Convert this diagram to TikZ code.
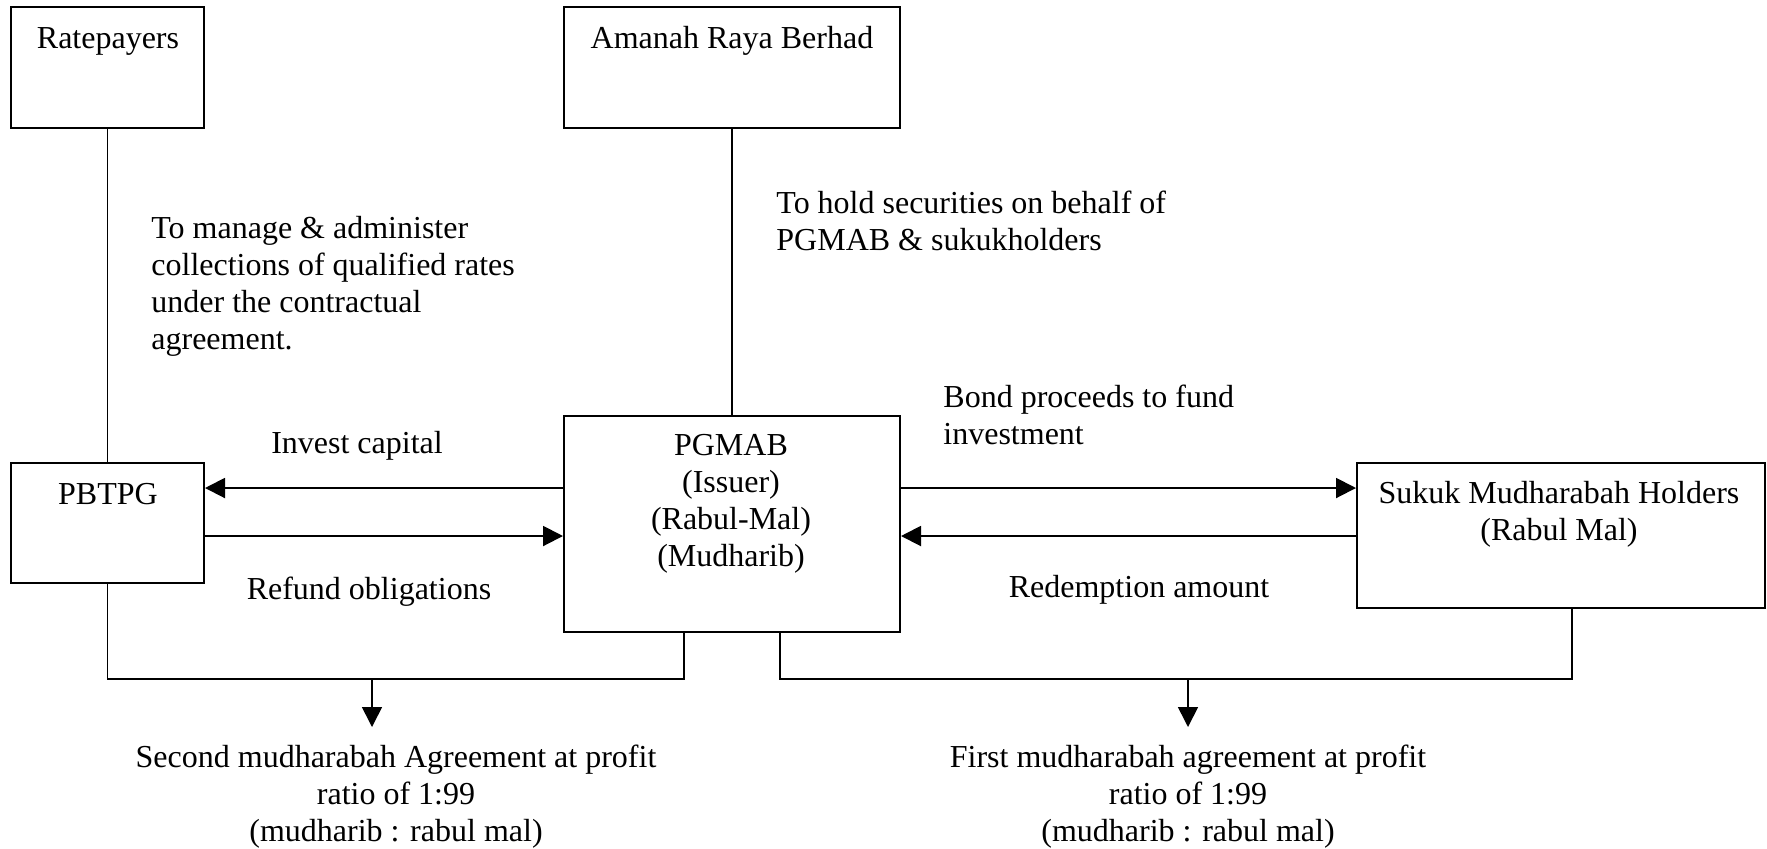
\documentclass[tikz,border=0pt]{standalone}
\usepackage{fontspec}
\setmainfont{Liberation Serif}
\usepackage{tikz}
\usetikzlibrary{calc}
\usetikzlibrary{arrows.meta}
\tikzset{
	boxstyle/.style={rectangle,draw=black,line width=1pt,inner sep=0pt},
	textstyle/.style={inner sep=0pt,font=\fontsize{16}{18.4}\selectfont},
	arrowstyle/.style={line width=1pt,-{Triangle[length=10pt,width=10pt]}},
	linestyle/.style={line width=0.9pt}
}
\begin{document}
\begin{tikzpicture}[x=0.5pt,y=-0.5pt]
	\useasboundingbox (0,0) rectangle (1767,848);
	\node[boxstyle,minimum width=96.5pt,minimum height=60.5pt] (rate) at (107.5,67.5) {};
	\node[boxstyle,minimum width=168pt,minimum height=60.5pt] (arb) at (732,67.5) {};
	\node[boxstyle,minimum width=96.5pt,minimum height=60pt] (pbtpg) at (107.5,523) {};
	\node[boxstyle,minimum width=168pt,minimum height=108pt] (pgmab) at (732,524) {};
	\node[boxstyle,minimum width=204pt,minimum height=72.5pt] (sukuk) at (1561,535.5) {};
	\node[textstyle,anchor=base] (ratetext) at (108,48) {Ratepayers};
	\node[textstyle,anchor=base] (arbtext) at (732,48) {Amanah Raya Berhad};
	\node[textstyle,anchor=base] (pbtpgtext) at (108,504) {PBTPG};
	\node[textstyle,anchor=north,align=center] (pgmabtext) at (731,434) {PGMAB\\(Issuer)\\(Rabul-Mal)\\(Mudharib)};
	\node[textstyle,anchor=north,align=center] (sukuktext) at (1559,481) {Sukuk Mudharabah Holders\\(Rabul Mal)};
	\node[textstyle,anchor=north west,align=left] (manage) at (151,216) {To manage \& administer\\collections of qualified rates\\under the contractual\\agreement.};
	\node[textstyle,anchor=north west,align=left] (hold) at (776,191) {To hold securities on behalf of\\PGMAB \& sukukholders};
	\node[textstyle,anchor=base] (invest) at (357,453) {Invest capital};
	\node[textstyle,anchor=base] (refund) at (369,599) {Refund obligations};
	\node[textstyle,anchor=north west,align=left] (bond) at (943,385) {Bond proceeds to fund\\investment};
	\node[textstyle,anchor=base] (redeem) at (1139,597) {Redemption amount};
	\node[textstyle,anchor=north,align=center] (second) at (396,745) {Second mudharabah Agreement at profit\\ratio of 1:99\\(mudharib : rabul mal)};
	\node[textstyle,anchor=north,align=center] (first) at (1188,745) {First mudharabah agreement at profit\\ratio of 1:99\\(mudharib : rabul mal)};
	\coordinate (leftjoin) at (372,679);
	\coordinate (rightjoin) at (1188,679);
	\draw[linestyle] (rate)--(pbtpg);
	\draw[linestyle] (arb)--(pgmab);
	\draw[arrowstyle] ([yshift=18pt]pgmab.west)--([yshift=18pt]pgmab.west -| pbtpg.east);
	\draw[arrowstyle] ([yshift=-6pt]pgmab.west -| pbtpg.east)--([yshift=-6pt]pgmab.west);
	\draw[arrowstyle] ([yshift=18pt]pgmab.east)--([yshift=18pt]pgmab.east -| sukuk.west);
	\draw[arrowstyle] ([yshift=-6pt]pgmab.east -| sukuk.west)--([yshift=-6pt]pgmab.east);
	\draw[linestyle] (pbtpg.south)|-(leftjoin)-|([xshift=-24pt]pgmab.south);
	\draw[linestyle] ([xshift=24pt]pgmab.south)|-(rightjoin)-|([xshift=5.5pt]sukuk.south);
	\draw[arrowstyle,line width=0.8pt,shorten >=9pt] (leftjoin)--(leftjoin |- second.north);
	\draw[arrowstyle,line width=0.8pt,shorten >=9pt] (rightjoin)--(rightjoin |- first.north);
\end{tikzpicture}
\end{document}
